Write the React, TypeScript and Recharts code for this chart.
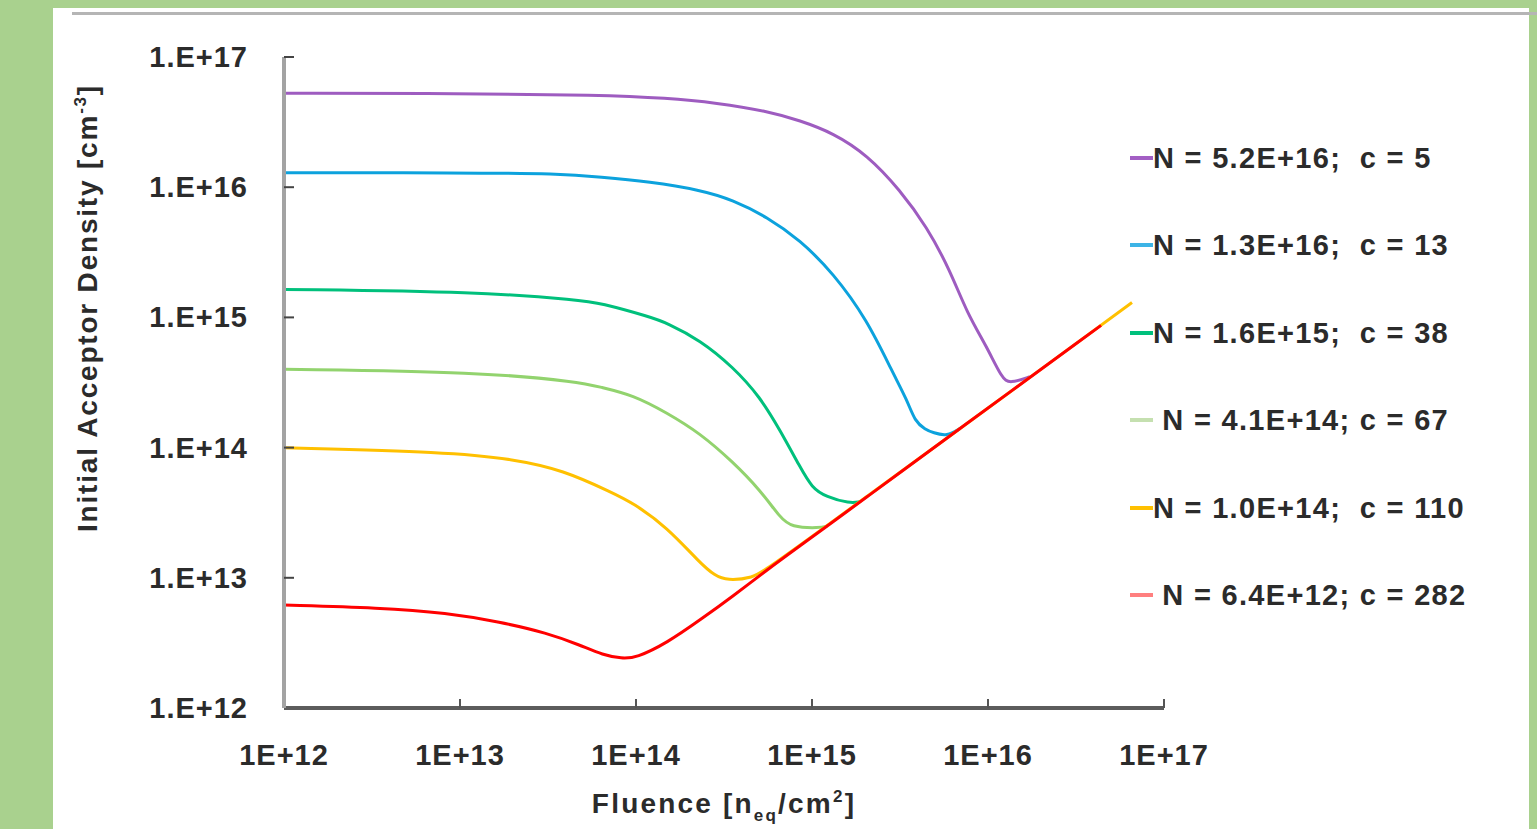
import React from 'react';
import { LineChart, Line, XAxis, YAxis } from 'recharts';

// axis ticks (log scale, both axes)
const fluenceTicks = [1e12, 1e13, 1e14, 1e15, 1e16, 1e17];
const fluenceLabels = ['1E+12', '1E+13', '1E+14', '1E+15', '1E+16', '1E+17'];
const densityTicks = [1e12, 1e13, 1e14, 1e15, 1e16, 1e17];
const densityLabels = ['1.E+12', '1.E+13', '1.E+14', '1.E+15', '1.E+16', '1.E+17'];

// series
const purpleFluence = [1e12, 1e13, 6.24e13, 1.5e14, 2.88e14, 5.55e14, 8.55e14, 1.32e15, 2.06e15, 3.16e15, 4.5e15, 6.08e15, 7.6e15, 9.86e15, 1.2e16, 1.33e16, 1.73e16];
const purpleDensity = [5.26e16, 5.25e16, 5.11e16, 4.84e16, 4.44e16, 3.85e16, 3.25e16, 2.61e16, 1.77e16, 9.53e15, 4.94e15, 2.31e15, 1.08e15, 5.93e14, 3.4e14, 3.1e14, 3.5e14];

const blueFluence = [1e12, 1e13, 3.7e13, 6.24e13, 1.2e14, 2.31e14, 3.56e14, 5.55e14, 8.55e14, 1.32e15, 2.06e15, 2.88e15, 3.47e15, 3.85e15, 4.4e15, 4.88e15, 5.85e15, 6.93e15];
const blueDensity = [1.29e16, 1.29e16, 1.27e16, 1.2e16, 1.1e16, 9.53e15, 7.98e15, 5.9e15, 3.93e15, 2.19e15, 9.55e14, 3.74e14, 2.32e14, 1.58e14, 1.38e14, 1.3e14, 1.22e14, 1.4e14];

const greenFluence = [1e12, 1.3e13, 4.81e13, 6.24e13, 1.2e14, 1.5e14, 2.31e14, 3.56e14, 5.07e14, 6.58e14, 8.55e14, 1.0e15, 1.2e15, 1.64e15, 1.87e15];
const greenDensity = [1.64e15, 1.57e15, 1.36e15, 1.29e15, 1.01e15, 9.06e14, 6.7e14, 4.16e14, 2.45e14, 1.36e14, 7.1e13, 4.9e13, 4.2e13, 3.72e13, 3.84e13];

const lightFluence = [1e12, 1.3e13, 4.81e13, 6.24e13, 9.61e13, 1.5e14, 2.31e14, 3.56e14, 5.07e14, 6.6e14, 7.6e14, 1.11e15, 1.22e15];
const lightDensity = [3.99e14, 3.81e14, 3.19e14, 2.92e14, 2.54e14, 1.85e14, 1.29e14, 7.74e13, 4.72e13, 2.9e13, 2.45e13, 2.41e13, 2.5e13];

const yellowFluence = [1e12, 8.43e12, 2e13, 3.85e13, 7.4e13, 9.61e13, 1.5e14, 2.31e14, 2.8e14, 3.3e14, 4.62e14, 5.55e14, 6.58e16];
const yellowDensity = [9.98e13, 9.25e13, 8.17e13, 6.73e13, 4.48e13, 3.76e13, 2.45e13, 1.3e13, 1.04e13, 9.5e12, 1.0e13, 1.15e13, 1.3e15];

const redFluence = [1e12, 3.51e12, 8.43e12, 1.69e13, 3.12e13, 4.81e13, 6.5e13, 8.3e13, 1.0e14, 1.5e14, 2.31e14, 3.56e14, 5.55e14, 8.55e14, 1.32e15, 2.06e15, 3.16e15, 6.08e15, 4.39e16];
const redDensity = [6.18e12, 5.89e12, 5.37e12, 4.58e12, 3.77e12, 3.04e12, 2.55e12, 2.4e12, 2.42e12, 3.16e12, 4.74e12, 7.24e12, 1.15e13, 1.76e13, 2.7e13, 4.2e13, 6.43e13, 1.23e14, 8.69e14];

const seriesNames = [
  'N = 5.2E+16;  c = 5',
  'N = 1.3E+16;  c = 13',
  'N = 1.6E+15;  c = 38',
  ' N = 4.1E+14; c = 67',
  'N = 1.0E+14;  c = 110',
  ' N = 6.4E+12; c = 282',
];
const seriesColors = ['#9e5cc0', '#0ca2dd', '#00c07c', '#92d36e', '#ffc000', '#ff0000'];
const legendColors = ['#a35fc4', '#3db4e6', '#00c07c', '#c5e0b0', '#ffc000', '#ff7f7f'];

const zip = (xs: number[], ys: number[]) => xs.map((x, i) => ({ x, y: ys[i] }));
const seriesData = [
  zip(purpleFluence, purpleDensity),
  zip(blueFluence, blueDensity),
  zip(greenFluence, greenDensity),
  zip(lightFluence, lightDensity),
  zip(yellowFluence, yellowDensity),
  zip(redFluence, redDensity),
];

const font = '"Liberation Sans", Arial, sans-serif';
const ink = '#2b2b2b';

const XTick = (props: any) => {
  const { x, y, index } = props;
  return (
    <g>
      {index > 0 && <line x1={x} y1={y} x2={x} y2={y - 9} stroke="#555" strokeWidth={2} />}
      <text x={x} y={y + 57} textAnchor="middle" fontFamily={font} fontSize={29} fontWeight="bold" letterSpacing={1} fill={ink}>
        {fluenceLabels[index]}
      </text>
    </g>
  );
};

const YTick = (props: any) => {
  const { x, y, index } = props;
  return (
    <g>
      {index > 0 && <line x1={x} y1={y} x2={x + 10} y2={y} stroke="#444" strokeWidth={2} />}
      <text x={x - 36} y={y + 10} textAnchor="end" fontFamily={font} fontSize={29} fontWeight="bold" letterSpacing={1} fill={ink}>
        {densityLabels[index]}
      </text>
    </g>
  );
};

const YTitle = (props: any) => {
  const vb = props.viewBox || { x: 0, y: 57 };
  const cx = vb.x + 97;
  const cy = vb.y + 251;
  return (
    <text x={cx} y={cy} textAnchor="middle" transform={`rotate(-90, ${cx}, ${cy})`} fontFamily={font} fontSize={28} fontWeight="bold" letterSpacing={1.8} fill={ink}>
      Initial Acceptor Density [cm<tspan dy={-11} fontSize={17}>-3</tspan><tspan dy={11}>]</tspan>
    </text>
  );
};

const XTitle = (props: any) => {
  const vb = props.viewBox || { x: 284, y: 708, width: 880 };
  const cx = vb.x + 440;
  const cy = 813;
  return (
    <text x={cx} y={cy} textAnchor="middle" fontFamily={font} fontSize={28} fontWeight="bold" letterSpacing={2.2} fill={ink}>
      Fluence [n<tspan dy={8} fontSize={17}>eq</tspan><tspan dy={-8}>/cm</tspan><tspan dy={-11} fontSize={17}>2</tspan><tspan dy={11}>]</tspan>
    </text>
  );
};

export default function App() {
  return (
    <div style={{ position: 'absolute', left: 0, top: 0, width: 1537, height: 829, background: '#a9d18e', overflow: 'hidden' }}>
      <div style={{ position: 'absolute', left: 53, top: 8, width: 1476, height: 821, background: '#fff' }} />
      <div style={{ position: 'absolute', left: 72, top: 12, width: 1465, height: 3, background: '#b5b5b5' }} />
      <div style={{ position: 'absolute', left: 0, top: 0 }}>
        <LineChart width={1537} height={829} margin={{ top: 57, right: 373, bottom: 61, left: 0 }}>
          <XAxis
            dataKey="x"
            type="number"
            scale="log"
            domain={[1e12, 1e17]}
            ticks={fluenceTicks}
            interval={0}
            allowDataOverflow
            height={60}
            axisLine={{ stroke: '#5c5c5c', strokeWidth: 4 }}
            tickLine={false}
            tickSize={0}
            tickMargin={0}
            tick={(p: any) => <XTick {...p} />}
            label={<XTitle />}
          />
          <YAxis
            type="number"
            scale="log"
            domain={[1e12, 1e17]}
            ticks={densityTicks}
            interval={0}
            allowDataOverflow
            width={284}
            axisLine={{ stroke: '#a3a3a3', strokeWidth: 4 }}
            tickLine={false}
            tickSize={0}
            tickMargin={0}
            tick={(p: any) => <YTick {...p} />}
            label={<YTitle />}
          />
          {seriesData.map((d, i) => (
            <Line
              key={i}
              data={d}
              dataKey="y"
              type="basis"
              stroke={seriesColors[i]}
              strokeWidth={3}
              dot={false}
              activeDot={false}
              isAnimationActive={false}
            />
          ))}
        </LineChart>
      </div>
      <div style={{ position: 'absolute', left: 1130, top: 140, fontFamily: font }}>
        {seriesNames.map((name, i) => (
          <div key={i} style={{ position: 'absolute', left: 0, top: i * 87.4, height: 36, display: 'flex', alignItems: 'center', whiteSpace: 'pre' }}>
            <div style={{ width: 23, height: 4, background: legendColors[i] }} />
            <span style={{ fontSize: 29, fontWeight: 'bold', letterSpacing: 1.3, color: ink, lineHeight: '36px' }}>{name}</span>
          </div>
        ))}
      </div>
    </div>
  );
}
